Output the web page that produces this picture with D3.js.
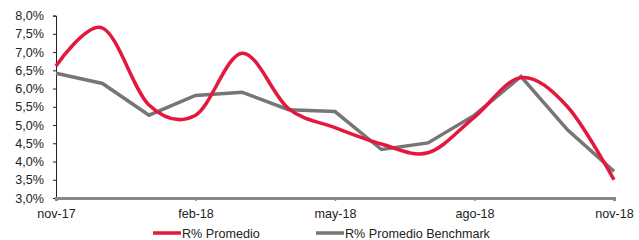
<!DOCTYPE html>
<html>
<head>
<meta charset="utf-8">
<script src="https://cdn.jsdelivr.net/npm/d3@7"></script>
<style>
  body { margin: 0; background: #fff; }
  svg { display: block; font-family: "Liberation Sans", Arial, sans-serif; }
</style>
</head>
<body>
<svg id="chart"></svg>
<script>
// months nov-17 .. nov-18
var months = ["nov-17", "dic-17", "ene-18", "feb-18", "mar-18", "abr-18", "may-18",
    "jun-18", "jul-18", "ago-18", "sep-18", "oct-18", "nov-18"];
var tickLabels = ["nov-17", "feb-18", "may-18", "ago-18", "nov-18"];
var promedio = [6.62, 7.66, 5.55, 5.27, 6.97, 5.45, 4.93, 4.48, 4.24, 5.22, 6.3, 5.5, 3.5];
var benchmark = [6.42, 6.14, 5.27, 5.81, 5.9, 5.42, 5.37, 4.33, 4.51, 5.27, 6.33, 4.87, 3.73];
var yTicks = [3, 3.5, 4, 4.5, 5, 5.5, 6, 6.5, 7, 7.5, 8];
var seriesNames = ["R% Promedio", "R% Promedio Benchmark"];
var colors = ["#e4173e", "#767676"];

var chart = (function() {

    var width = 639,
        height = 240;
    var margin = { left: 56, right: 25, top: 15.6, bottom: 42 };
    var fontSize = 12.6;

    var svg = d3.select("#chart")
        .attr("width", width)
        .attr("height", height);

    var x = d3.scalePoint()
        .domain(months)
        .range([margin.left, width - margin.right]);

    var y = d3.scaleLinear()
        .domain([3, 8])
        .range([height - margin.bottom, margin.top]);

    var fmt = function(d) {
        return d3.format(".1f")(d).replace(".", ",") + "%";
    };

    // y axis
    var yAxis = svg.append("g")
        .attr("transform", "translate(" + margin.left + ",0)")
        .call(d3.axisLeft(y).tickValues(yTicks).tickFormat(fmt).tickSize(3).tickPadding(9));
    yAxis.selectAll("path, line").attr("stroke", "#222").attr("stroke-width", 1);
    yAxis.selectAll("text").attr("font-size", fontSize).attr("fill", "#222")
        .attr("font-family", "Liberation Sans, Arial, sans-serif");

    // x axis
    var xAxis = svg.append("g")
        .attr("transform", "translate(0," + (height - margin.bottom) + ")")
        .call(d3.axisBottom(x).tickValues(tickLabels).tickSize(3).tickSizeOuter(3).tickPadding(8));
    xAxis.select("path").attr("stroke", "#888").attr("stroke-width", 3);
    xAxis.selectAll("line").attr("stroke", "#888").attr("stroke-width", 1.5);
    xAxis.selectAll("text").attr("font-size", fontSize).attr("fill", "#222")
        .attr("font-family", "Liberation Sans, Arial, sans-serif");

    var smooth = d3.line()
        .x(function(d, i) { return x(months[i]); })
        .y(function(d) { return y(d); })
        .curve(d3.curveCatmullRom.alpha(0));

    var straight = d3.line()
        .x(function(d, i) { return x(months[i]); })
        .y(function(d) { return y(d); });

    svg.append("path")
        .attr("d", straight(benchmark))
        .attr("fill", "none")
        .attr("stroke", colors[1])
        .attr("stroke-width", 3.5)
        .attr("stroke-linejoin", "miter");

    svg.append("path")
        .attr("d", smooth(promedio))
        .attr("fill", "none")
        .attr("stroke", colors[0])
        .attr("stroke-width", 3.5);

    // legend
    var legendX = [153, 316];
    var legend = svg.append("g").selectAll("g")
        .data(seriesNames)
        .enter()
        .append("g")
        .attr("transform", function(d, i) { return "translate(" + legendX[i] + ",233)"; });

    legend.append("line")
        .attr("x1", 0).attr("x2", 28)
        .attr("y1", 0).attr("y2", 0)
        .attr("stroke", function(d, i) { return colors[i]; })
        .attr("stroke-width", 3.5);

    legend.append("text")
        .attr("x", 29)
        .attr("y", 4.5)
        .attr("font-size", fontSize)
        .attr("fill", "#222")
        .text(function(d) { return d; });

    return svg;
})();
</script>
</body>
</html>
